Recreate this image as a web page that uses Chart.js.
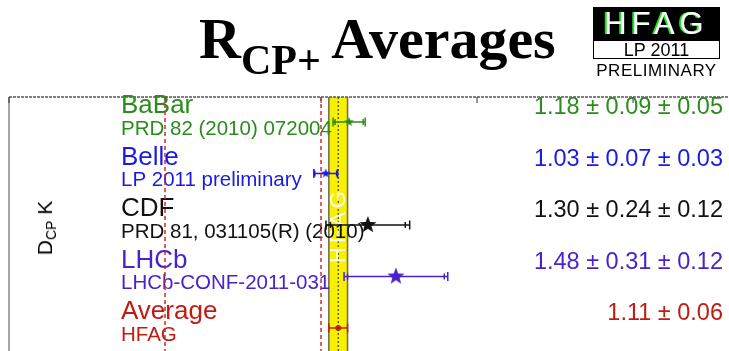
<!DOCTYPE html>
<html>
<head>
<meta charset="utf-8">
<script src="https://cdn.jsdelivr.net/npm/chart.js@4"></script>
<style>
  body { margin: 0; background: #fff; }
  #wrap { position: relative; width: 729px; height: 351px; overflow: hidden; }
  #title { position: absolute; left: 199px; top: 10px; font: bold 58px 'Liberation Serif', serif; line-height: 58px; white-space: nowrap; color: #000; }
  #title sub { font-size: 42px; vertical-align: -16px; line-height: 0; }
  #title .av { margin-left: -4px; }
  #logo { position: absolute; left: 593px; top: 7px; width: 127px; }
  #logo .top { background: #000; height: 33px; color: #fff; font: 31px 'Liberation Sans', sans-serif; line-height: 33px; text-align: center; letter-spacing: 5px; text-shadow: -2px 0 #22dd22; }
  #logo .mid { border: 1px solid #000; height: 17px; font: 18px 'Liberation Sans', sans-serif; line-height: 18px; text-align: center; }
  #logo .bot { font: 17px 'Liberation Sans', sans-serif; text-align: center; margin-top: 2px; letter-spacing: 0.5px; }
  #ylab { position: absolute; left: 45px; top: 228px; transform: translate(-50%, -50%) rotate(-90deg); font: 21px 'Liberation Sans', sans-serif; white-space: nowrap; }
  #ylab sub { font-size: 14px; vertical-align: -4px; line-height: 0; }
  canvas { position: absolute; left: 0; top: 0; }
</style>
</head>
<body>
<div id="wrap">
  <canvas id="canvas-1" width="729" height="351"></canvas>
  <div id="title">R<sub>CP+</sub> <span class="av">Averages</span></div>
  <div id="logo">
    <div class="top">HFAG</div>
    <div class="mid">LP 2011</div>
    <div class="bot">PRELIMINARY</div>
  </div>
  <div id="ylab">D<sub>CP</sub> K</div>
</div>
<script>
// podaci
const eksperimenti = ['BaBar', 'Belle', 'CDF', 'LHCb', 'Average'];
const reference = ['PRD 82 (2010) 072004', 'LP 2011 preliminary', 'PRD 81, 031105(R) (2010)', 'LHCb-CONF-2011-031', 'HFAG'];
const vrijednosti = [1.18, 1.03, 1.30, 1.48, 1.11];
const statGreska = [0.09, 0.07, 0.24, 0.31, 0.06];
const sistGreska = [0.05, 0.03, 0.12, 0.12, null];
const boje = ['#2a8c1c', '#1a1ae0', '#111111', '#4a22cc', '#c01c14'];
const velicineZvijezda = [5, 5, 9, 9, 0];
const xTicks = [-1, 0, 1, 2, 3];
const crvenaLinija = [0, 1];

const yMin = -0.485, yMax = 4.447;
const prosjek = vrijednosti[4], prosjekGreska = statGreska[4];

function ukupno(i) {
  const s = sistGreska[i] || 0;
  return Math.sqrt(statGreska[i] * statGreska[i] + s * s);
}

// zvijezda kao slika za pointStyle
function zvijezda(r, boja) {
  const c = document.createElement('canvas');
  c.width = c.height = Math.ceil(r * 2 + 2);
  const g = c.getContext('2d');
  const cx = c.width / 2, cy = c.height / 2;
  g.beginPath();
  for (let k = 0; k < 10; k++) {
    const rr = k % 2 === 0 ? r : r * 0.42;
    const a = -Math.PI / 2 + k * Math.PI / 5;
    const px = cx + rr * Math.cos(a), py = cy + rr * Math.sin(a);
    if (k === 0) g.moveTo(px, py); else g.lineTo(px, py);
  }
  g.closePath();
  g.fillStyle = boja;
  g.fill();
  return c;
}

const datasets = [];

// crvene isprekidane linije
crvenaLinija.forEach(v => {
  datasets.push({
    type: 'line',
    data: [{x: v, y: yMin}, {x: v, y: yMax}],
    borderColor: '#d42a2a',
    borderWidth: 1.5,
    borderDash: [4, 3],
    pointRadius: 0
  });
});

// greske
for (let i = 0; i < eksperimenti.length; i++) {
  const v = vrijednosti[i], t = ukupno(i), s = statGreska[i];
  datasets.push({
    type: 'line',
    data: [{x: v - t, y: i}, {x: v + t, y: i}],
    borderColor: boje[i],
    borderWidth: 1.5,
    pointStyle: 'line',
    rotation: 90,
    pointRadius: 4.5,
    pointBorderColor: boje[i],
    pointBorderWidth: 1.5
  });
  if (sistGreska[i] !== null) {
    datasets.push({
      type: 'scatter',
      data: [{x: v - s, y: i}, {x: v + s, y: i}],
      pointStyle: 'line',
      rotation: 90,
      pointRadius: 3,
      pointBorderColor: boje[i],
      pointBorderWidth: 1.5
    });
  }
  datasets.push({
    type: 'scatter',
    data: [{x: v, y: i}],
    pointStyle: velicineZvijezda[i] > 0 ? zvijezda(velicineZvijezda[i], boje[i]) : 'circle',
    pointRadius: velicineZvijezda[i] > 0 ? velicineZvijezda[i] : 2.5,
    pointBackgroundColor: boje[i],
    pointBorderColor: boje[i]
  });
}

const pozadina = {
  id: 'pozadina',
  beforeDatasetsDraw(chart) {
    const {ctx, chartArea: a, scales: {x, y}} = chart;
    ctx.save();
    // zuta traka
    const l = x.getPixelForValue(prosjek - prosjekGreska);
    const r = x.getPixelForValue(prosjek + prosjekGreska);
    ctx.fillStyle = '#f8f000';
    ctx.fillRect(l, a.top, r - l, a.bottom - a.top);
    ctx.strokeStyle = '#6a6a50';
    ctx.lineWidth = 1.5;
    ctx.beginPath();
    ctx.moveTo(l, a.top); ctx.lineTo(l, a.bottom);
    ctx.moveTo(r, a.top); ctx.lineTo(r, a.bottom);
    ctx.stroke();
    const m = x.getPixelForValue(prosjek);
    ctx.strokeStyle = '#222';
    ctx.lineWidth = 1;
    ctx.setLineDash([2, 2]);
    ctx.beginPath();
    ctx.moveTo(m, a.top); ctx.lineTo(m, a.bottom);
    ctx.stroke();
    ctx.setLineDash([]);
    // HFAG u traci
    ctx.translate(m + 1, y.getPixelForValue(2));
    ctx.rotate(-Math.PI / 2);
    ctx.fillStyle = 'rgba(255,255,255,0.95)';
    ctx.font = '22px "Liberation Sans"';
    ctx.letterSpacing = '4px';
    ctx.textAlign = 'center';
    ctx.textBaseline = 'middle';
    ctx.fillText('HFAG', 0, 0);
    ctx.restore();

    // okvir
    ctx.save();
    ctx.strokeStyle = '#888';
    ctx.lineWidth = 1.5;
    ctx.beginPath();
    ctx.moveTo(a.left, a.bottom); ctx.lineTo(a.left, a.top);
    ctx.stroke();
    ctx.strokeStyle = '#555';
    ctx.setLineDash([3, 1]);
    ctx.beginPath();
    ctx.moveTo(a.left, a.top); ctx.lineTo(a.right, a.top);
    ctx.stroke();
    ctx.setLineDash([]);
    ctx.strokeStyle = '#333';
    ctx.lineWidth = 1;
    xTicks.forEach(t => {
      const px = x.getPixelForValue(t);
      ctx.beginPath();
      ctx.moveTo(px, a.top); ctx.lineTo(px, a.top + 6);
      ctx.stroke();
    });

    // tekstovi
    for (let i = 0; i < eksperimenti.length; i++) {
      const py = y.getPixelForValue(i);
      ctx.fillStyle = boje[i];
      ctx.textBaseline = 'middle';
      ctx.textAlign = 'left';
      ctx.font = '26px "Liberation Sans"';
      ctx.fillText(eksperimenti[i], 121, py - 16);
      ctx.font = '20.5px "Liberation Sans"';
      ctx.fillText(reference[i], 121, py + 7);
      let tekst = vrijednosti[i].toFixed(2) + ' \u00b1 ' + statGreska[i].toFixed(2);
      if (sistGreska[i] !== null) tekst += ' \u00b1 ' + sistGreska[i].toFixed(2);
      ctx.font = '23.5px "Liberation Sans"';
      ctx.textAlign = 'right';
      ctx.fillText(tekst, 723, py - 14);
    }
    ctx.restore();
  }
};

const grafik = new Chart(document.getElementById('canvas-1'), {
  type: 'scatter',
  data: { datasets: datasets },
  options: {
    responsive: false,
    animation: false,
    layout: { autoPadding: false, padding: { top: 97, left: 9, right: 0, bottom: 0 } },
    plugins: { legend: { display: false }, tooltip: { enabled: false } },
    scales: {
      x: { type: 'linear', min: -1, max: 3.615, display: false },
      y: { type: 'linear', min: yMin, max: yMax, reverse: true, display: false }
    }
  },
  plugins: [pozadina]
});
</script>
</body>
</html>
